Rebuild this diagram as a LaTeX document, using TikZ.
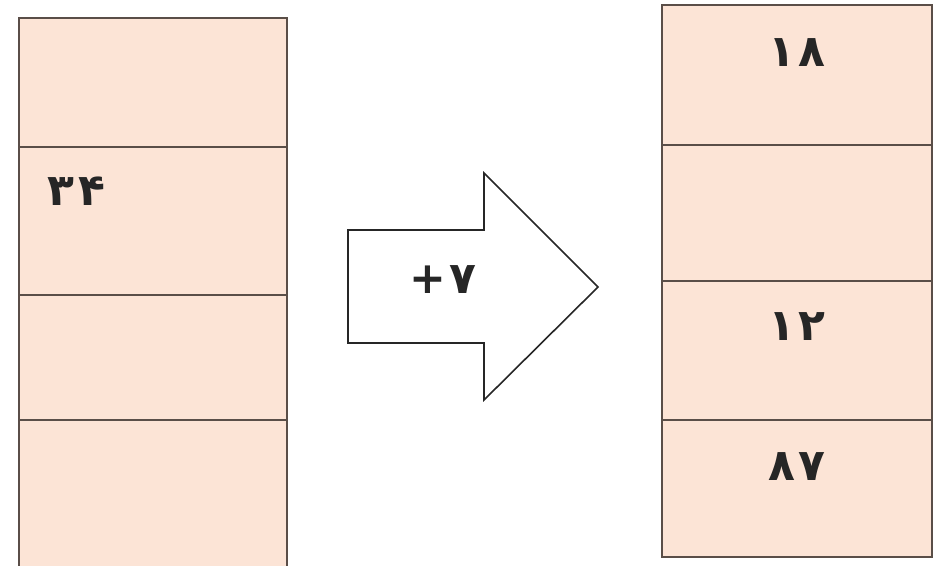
\documentclass[tikz,border=0pt]{standalone}
\usepackage{fontspec}
\newfontfamily\arabicfont[Script=Arabic]{DejaVu Sans}
\newfontfamily\plainfont{DejaVu Sans}
\usepackage{tikz}
\usetikzlibrary{positioning}
\definecolor{cellfill}{RGB}{252,228,214}
\definecolor{cellline}{RGB}{90,78,72}
\tikzset{cell/.style={draw=cellline, fill=cellfill, line width=1.6pt, rectangle, outer sep=0pt, inner sep=0pt, anchor=north west}}
\tikzset{num/.style={font=\arabicfont\bfseries\fontsize{44}{50}\selectfont, inner sep=0pt, text=black!85}}
\tikzset{bigarrow/.style={draw=black!85, fill=white, line width=1.6pt, line join=miter}}

\begin{document}
\begin{tikzpicture}[x=1pt, y=-1pt]
        \path [use as bounding box, clip] (0,0) rectangle (942,565);
        % left column
        \node [cell, minimum width=268pt, minimum height=129pt] at (19,18) (l1) {};
        \node [cell, minimum width=268pt, minimum height=148pt, below=0pt of l1] (l2) {};
        \node [cell, minimum width=268pt, minimum height=125pt, below=0pt of l2] (l3) {};
        \node [cell, minimum width=268pt, minimum height=170pt, below=0pt of l3] (l4) {};
        \node [num, below right=30pt and 28pt of l2.north west] (t34) {۳\kern4pt۴};
        %
        % right column
        \node [cell, minimum width=270pt, minimum height=140pt] at (662,5) (r1) {};
        \node [cell, minimum width=270pt, minimum height=136pt, below=0pt of r1] (r2) {};
        \node [cell, minimum width=270pt, minimum height=139pt, below=0pt of r2] (r3) {};
        \node [cell, minimum width=270pt, minimum height=137pt, below=0pt of r3] (r4) {};
        \node [num, below=33pt of r1.north] (t18) {۱\kern3pt۸};
        \node [num, below=31pt of r3.north] (t12) {۱\kern3pt۲};
        \node [num, below=32pt of r4.north] (t87) {۸\kern3pt۷};
        %
        % arrow
        \draw [bigarrow] (348,230) -- (484,230) -- (484,173) -- (598,287)
                         -- (484,400) -- (484,343) -- (348,343) -- cycle;
        \node [num] at (443,280) (plus) {{\plainfont+}\kern3pt۷};
\end{tikzpicture}
\end{document}
